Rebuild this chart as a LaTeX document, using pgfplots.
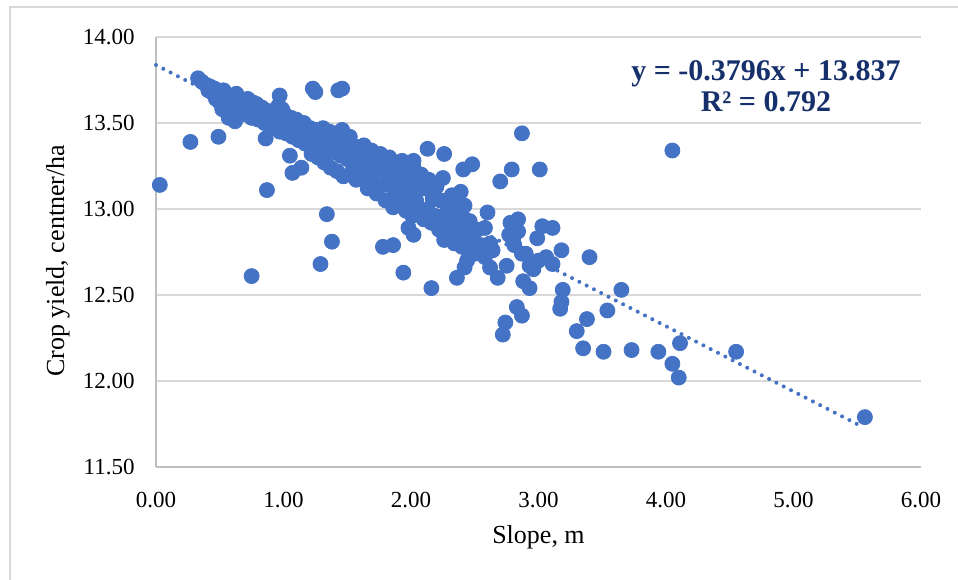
\documentclass[border=0pt]{standalone}
\usepackage{fontspec}
\setmainfont{Liberation Serif}
\usepackage{pgfplots}
\pgfplotsset{compat=1.18}
\definecolor{dotblue}{HTML}{4472C4}
\definecolor{eqnavy}{HTML}{15306A}
\definecolor{gridgray}{HTML}{D9D9D9}
\definecolor{axgray}{HTML}{BFBFBF}
\begin{document}
\begin{tikzpicture}
\useasboundingbox (0,0) rectangle (479pt,289.5pt);
\fill[white] (0,0) rectangle (479pt,289.5pt);
\draw[gridgray, line width=0.8pt] (5pt,-1pt) -- (5pt,286pt) -- (480pt,286pt);
\begin{axis}[
  at={(78pt,56pt)}, anchor=south west,
  scale only axis, width=382.5pt, height=215pt,
  xmin=0, xmax=6, ymin=11.5, ymax=14,
  xtick={0,1,2,3,4,5,6}, ytick={11.5,12,12.5,13,13.5,14},
  axis lines*=left,
  axis line style={draw=axgray, line width=0.8pt},
  major tick length=0pt,
  ymajorgrids, grid style={draw=gridgray, line width=0.8pt},
  /pgf/number format/.cd, fixed, fixed zerofill, precision=2, assume math mode=true,
  /pgfplots/.cd,
  tick label style={font=\fontsize{11.5}{13}\selectfont, text=black},
  yticklabel style={anchor=east, inner sep=0pt, xshift=-10.5pt},
  xticklabel style={anchor=base, inner sep=0pt, yshift=-20pt},
  clip=false,
]
\addplot[only marks, mark=*, mark size=3.75pt, color=dotblue, fill=dotblue] table {
x y
0.36 13.74
0.33 13.76
0.40 13.72
0.41 13.69
0.43 13.71
0.45 13.67
0.46 13.70
0.47 13.64
0.49 13.68
0.50 13.62
0.51 13.66
0.52 13.58
0.53 13.69
0.55 13.64
0.56 13.60
0.57 13.53
0.58 13.66
0.60 13.62
0.61 13.57
0.62 13.51
0.63 13.67
0.64 13.60
0.66 13.63
0.67 13.55
0.68 13.58
0.70 13.61
0.71 13.56
0.72 13.64
0.74 13.59
0.75 13.53
0.76 13.62
0.78 13.57
0.79 13.61
0.80 13.52
0.82 13.55
0.83 13.59
0.85 13.50
0.86 13.56
0.88 13.57
0.90 13.52
0.91 13.47
0.93 13.55
0.95 13.50
0.96 13.60
0.97 13.45
0.98 13.53
0.99 13.58
1.00 13.48
1.01 13.55
1.02 13.44
1.03 13.51
1.05 13.47
1.06 13.53
1.07 13.42
1.08 13.49
1.10 13.52
1.11 13.45
1.12 13.40
1.13 13.48
1.15 13.43
1.16 13.50
1.17 13.38
1.18 13.45
1.20 13.41
1.21 13.47
1.22 13.32
1.23 13.43
1.25 13.39
1.26 13.46
1.27 13.30
1.28 13.41
1.30 13.37
1.31 13.47
1.32 13.27
1.33 13.40
1.35 13.35
1.36 13.45
1.37 13.24
1.38 13.38
1.40 13.33
1.41 13.44
1.42 13.22
1.43 13.36
1.45 13.31
1.46 13.42
1.47 13.19
1.48 13.34
1.50 13.29
1.52 13.42
1.54 13.22
1.55 13.33
1.57 13.17
1.58 13.36
1.60 13.27
1.62 13.20
1.63 13.37
1.65 13.30
1.66 13.12
1.67 13.25
1.69 13.34
1.70 13.18
1.72 13.29
1.73 13.09
1.75 13.23
1.76 13.32
1.78 13.14
1.79 13.26
1.80 13.05
1.82 13.21
1.83 13.30
1.85 13.13
1.86 13.01
1.87 13.24
1.89 13.10
1.90 13.20
1.92 13.04
1.93 13.28
1.95 13.13
1.96 12.99
1.97 13.22
1.99 13.08
2.00 13.18
2.01 12.96
2.02 13.24
2.04 13.05
2.05 13.14
2.07 13.00
2.08 13.20
2.10 12.94
2.11 13.12
2.13 12.98
2.14 13.17
2.16 12.92
2.17 13.06
2.19 12.96
2.20 13.13
2.22 12.88
2.23 13.05
2.25 12.94
2.26 12.82
2.28 13.04
2.29 12.90
2.31 12.85
2.32 13.08
2.34 12.80
2.35 12.96
2.37 12.87
2.38 13.03
2.40 12.78
2.41 12.95
2.43 12.84
2.45 12.76
2.46 12.93
2.48 12.82
2.50 12.74
2.52 12.88
2.55 12.79
2.58 12.72
2.62 12.80
0.03 13.14
0.27 13.39
0.49 13.42
0.75 12.61
0.87 13.11
0.86 13.41
0.97 13.66
1.23 13.70
1.25 13.68
1.43 13.69
1.46 13.70
1.46 13.46
1.05 13.31
1.14 13.24
1.07 13.21
1.34 12.97
1.38 12.81
1.29 12.68
1.78 12.78
1.86 12.79
1.94 12.63
2.16 12.54
2.36 12.60
1.98 12.89
2.02 12.85
2.13 13.35
2.26 13.32
2.41 13.23
2.48 13.26
2.25 13.18
2.39 13.10
2.02 13.28
2.87 13.44
2.79 13.23
3.01 13.23
2.70 13.16
4.05 13.34
2.60 12.98
2.58 12.89
2.78 12.92
2.84 12.94
2.77 12.85
2.81 12.79
2.87 12.74
3.03 12.90
3.11 12.89
2.99 12.83
3.18 12.76
3.40 12.72
3.06 12.72
3.11 12.68
2.96 12.65
2.88 12.58
2.93 12.54
3.19 12.53
3.18 12.46
3.17 12.42
3.65 12.53
3.54 12.41
3.38 12.36
3.30 12.29
3.35 12.19
3.51 12.17
3.73 12.18
3.94 12.17
4.05 12.10
4.10 12.02
4.11 12.22
4.55 12.17
5.56 11.79
2.83 12.43
2.87 12.38
2.74 12.34
2.72 12.27
2.28 12.83
2.44 12.70
2.42 12.66
2.62 12.66
2.68 12.60
2.75 12.67
2.93 12.67
2.60 12.77
2.64 12.76
2.53 12.79
2.80 12.82
2.33 12.94
2.41 12.92
2.45 12.88
2.29 13.00
2.42 13.02
2.84 12.87
2.90 12.74
3.00 12.70
};
\addplot[color=dotblue, line width=2pt, line cap=round, dash pattern=on 0pt off 4.1pt] coordinates {(0,13.837) (5.5,11.7492)};
\node[anchor=base, text=eqnavy, font=\fontsize{15}{17}\selectfont\bfseries] at (axis cs:4.784,13.750) {y = -0.3796x + 13.837};
\node[anchor=base, text=eqnavy, font=\fontsize{15}{17}\selectfont\bfseries] at (axis cs:4.784,13.564) {R² = 0.792};
\node[anchor=base, font=\fontsize{13}{15}\selectfont] at ([yshift=-38pt]axis description cs:0.5,0) {Slope, m};
\node[anchor=base, rotate=90, font=\fontsize{13}{15}\selectfont] at ([xshift=-46pt]axis description cs:0,0.48) {Crop yield, centner/ha};
\end{axis}
\end{tikzpicture}
\end{document}
